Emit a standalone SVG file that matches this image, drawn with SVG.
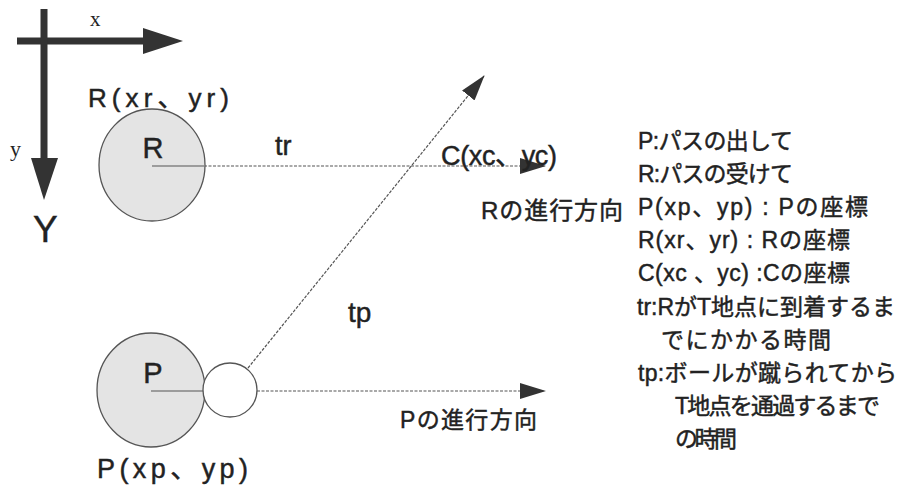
<svg xmlns="http://www.w3.org/2000/svg" width="901" height="491" viewBox="0 0 901 491">
<style>
.sans{font-family:"Liberation Sans","Noto Sans CJK JP",Arial,sans-serif;fill:#222;stroke:#222;stroke-width:0.45}
.serif{font-family:"Liberation Serif","Noto Serif CJK JP",serif;fill:#222}
.leg{font-size:23px}
.body{fill:#e4e4e4;stroke:#555;stroke-width:1.3}
.dot{stroke:#555;stroke-width:1.2;stroke-dasharray:3 1.5;fill:none}
.rad{stroke:#555;stroke-width:1;fill:none}
.axis{stroke:#333;stroke-width:7}
</style>
<defs>
<marker id="ah" markerUnits="userSpaceOnUse" markerWidth="26" markerHeight="16" refX="25" refY="8" orient="auto">
<path d="M0,0 L26,8 L0,16 z" fill="#333"/>
</marker>
</defs>
<g id="axes">
<line class="axis" x1="17" y1="41" x2="146" y2="41"/>
<polygon points="143,28 183,41 143,54" fill="#333"/>
<line class="axis" x1="44" y1="9" x2="44" y2="160"/>
<polygon points="31,158 58,158 44,200" fill="#333"/>
<text class="serif" x="90" y="26" font-size="21">x</text>
<text class="serif" x="10" y="156" font-size="22">y</text>
<text class="sans" x="33" y="242" font-size="37">Y</text>
</g>
<g id="connectors">
<line class="dot" x1="204" y1="166" x2="545" y2="166" marker-end="url(#ah)"/>
<line class="dot" x1="248" y1="368" x2="484" y2="76" marker-end="url(#ah)"/>
<line class="dot" x1="257" y1="391" x2="545" y2="391" marker-end="url(#ah)"/>
</g>
<g id="nodeR">
<ellipse class="body" cx="152" cy="165" rx="53" ry="56"/>
<line class="rad" x1="152" y1="166" x2="204" y2="166"/>
<text class="sans" x="153" y="158" font-size="29" text-anchor="middle">R</text>
<text class="sans" x="88" y="107" font-size="26" textLength="141" lengthAdjust="spacing">R(xr、yr)</text>
</g>
<g id="nodeP">
<ellipse class="body" cx="151" cy="390" rx="54" ry="57"/>
<line class="rad" x1="151" y1="391" x2="204" y2="391"/>
<text class="sans" x="153" y="383" font-size="29" text-anchor="middle">P</text>
<text class="sans" x="97" y="478" font-size="27" textLength="151" lengthAdjust="spacing">P(xp、yp)</text>
</g>
<g id="ball">
<circle cx="230" cy="390" r="27" fill="#fff" stroke="#555" stroke-width="1.3"/>
</g>
<g id="labels">
<text class="sans" x="275" y="155" font-size="27">tr</text>
<text class="sans" x="348" y="322" font-size="28">tp</text>
<text class="sans" x="441" y="165" font-size="27" textLength="116" lengthAdjust="spacing">C(xc、yc)</text>
<text class="sans" x="481" y="219" font-size="24" textLength="142" lengthAdjust="spacing">Rの進行方向</text>
<text class="sans" x="400" y="428" font-size="23" textLength="137" lengthAdjust="spacing">Pの進行方向</text>
</g>
<g id="legend" class="sans leg">
<text x="638" y="149" textLength="155" lengthAdjust="spacing">P:パスの出して</text>
<text x="638" y="182" textLength="155" lengthAdjust="spacing">R:パスの受けて</text>
<text x="638" y="215" textLength="230" lengthAdjust="spacing">P(xp、yp) : Pの座標</text>
<text x="638" y="248" textLength="212" lengthAdjust="spacing">R(xr、yr) : Rの座標</text>
<text x="638" y="281" textLength="212" lengthAdjust="spacing">C(xc 、yc) :Cの座標</text>
<text x="637" y="315" textLength="258" lengthAdjust="spacing">tr:RがT地点に到着するま</text>
<text x="661" y="348" textLength="170" lengthAdjust="spacing">でにかかる時間</text>
<text x="638" y="381" textLength="259" lengthAdjust="spacing">tp:ボールが蹴られてから</text>
<text x="675" y="414" textLength="205" lengthAdjust="spacing">T地点を通過するまで</text>
<text x="675" y="447" textLength="62" lengthAdjust="spacing">の時間</text>
</g>
</svg>
